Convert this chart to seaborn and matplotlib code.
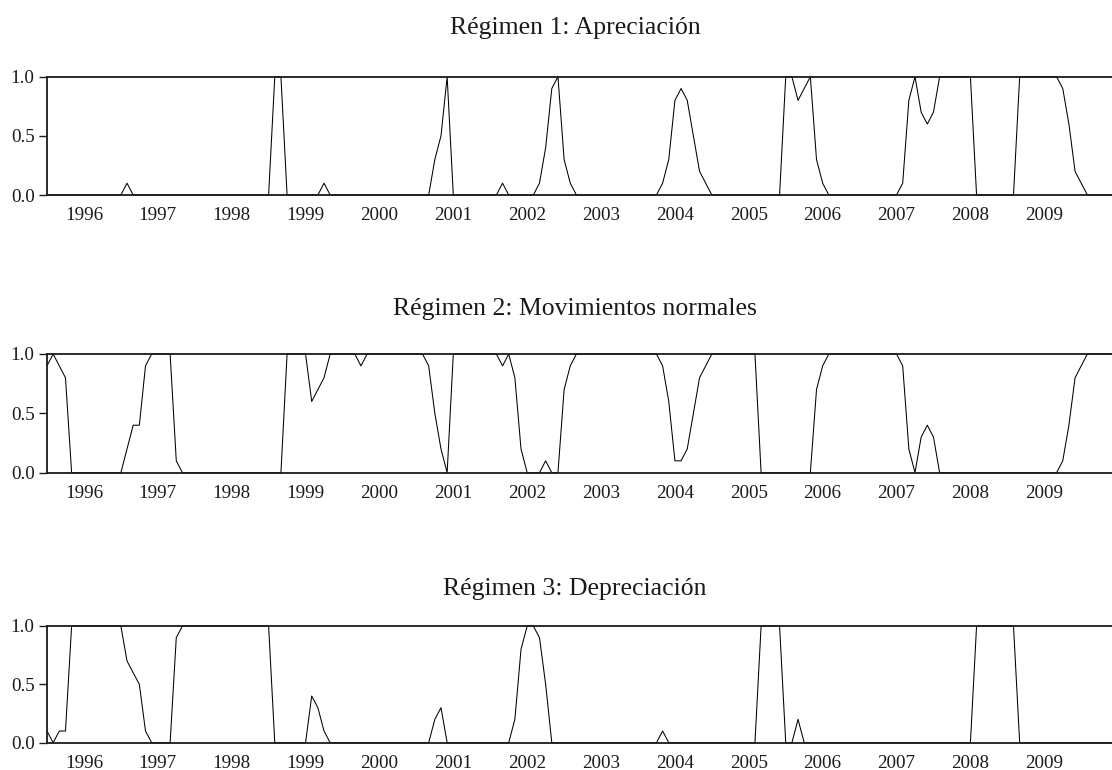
import numpy as np
import pandas as pd
import matplotlib
matplotlib.use("Agg")
import matplotlib.pyplot as plt
import seaborn as sns

# ---- data: monthly smoothed regime probabilities, 1995M7 .. 2009M12 ----
start_year = 1995
start_month = 7

reg1_1995 = [0, 0, 0, 0, 0, 0]
reg1_1996 = [0, 0, 0, 0, 0, 0, 0, 0.1, 0, 0, 0, 0]
reg1_1997 = [0, 0, 0, 0, 0, 0, 0, 0, 0, 0, 0, 0]
reg1_1998 = [0, 0, 0, 0, 0, 0, 0, 1, 1, 0, 0, 0]
reg1_1999 = [0, 0, 0, 0.1, 0, 0, 0, 0, 0, 0, 0, 0]
reg1_2000 = [0, 0, 0, 0, 0, 0, 0, 0, 0, 0.3, 0.5, 1.0]
reg1_2001 = [0, 0, 0, 0, 0, 0, 0, 0, 0.1, 0, 0, 0]
reg1_2002 = [0, 0, 0.1, 0.4, 0.9, 1.0, 0.3, 0.1, 0, 0, 0, 0]
reg1_2003 = [0, 0, 0, 0, 0, 0, 0, 0, 0, 0, 0.1, 0.3]
reg1_2004 = [0.8, 0.9, 0.8, 0.5, 0.2, 0.1, 0, 0, 0, 0, 0, 0]
reg1_2005 = [0, 0, 0, 0, 0, 0, 1, 1, 0.8, 0.9, 1.0, 0.3]
reg1_2006 = [0.1, 0, 0, 0, 0, 0, 0, 0, 0, 0, 0, 0]
reg1_2007 = [0, 0.1, 0.8, 1.0, 0.7, 0.6, 0.7, 1, 1, 1, 1, 1]
reg1_2008 = [1, 0, 0, 0, 0, 0, 0, 0, 1, 1, 1, 1]
reg1_2009 = [1, 1, 1, 0.9, 0.6, 0.2, 0.1, 0, 0, 0, 0, 0]

reg2_1995 = [0.9, 1, 0.9, 0.8, 0, 0]
reg2_1996 = [0, 0, 0, 0, 0, 0, 0, 0.2, 0.4, 0.4, 0.9, 1.0]
reg2_1997 = [1, 1, 1, 0.1, 0, 0, 0, 0, 0, 0, 0, 0]
reg2_1998 = [0, 0, 0, 0, 0, 0, 0, 0, 0, 1, 1, 1]
reg2_1999 = [1, 0.6, 0.7, 0.8, 1, 1, 1, 1, 1, 0.9, 1, 1]
reg2_2000 = [1, 1, 1, 1, 1, 1, 1, 1, 0.9, 0.5, 0.2, 0]
reg2_2001 = [1, 1, 1, 1, 1, 1, 1, 1, 0.9, 1, 0.8, 0.2]
reg2_2002 = [0, 0, 0, 0.1, 0, 0, 0.7, 0.9, 1, 1, 1, 1]
reg2_2003 = [1, 1, 1, 1, 1, 1, 1, 1, 1, 1, 0.9, 0.6]
reg2_2004 = [0.1, 0.1, 0.2, 0.5, 0.8, 0.9, 1, 1, 1, 1, 1, 1]
reg2_2005 = [1, 1, 0, 0, 0, 0, 0, 0, 0, 0, 0, 0.7]
reg2_2006 = [0.9, 1, 1, 1, 1, 1, 1, 1, 1, 1, 1, 1]
reg2_2007 = [1, 0.9, 0.2, 0, 0.3, 0.4, 0.3, 0, 0, 0, 0, 0]
reg2_2008 = [0, 0, 0, 0, 0, 0, 0, 0, 0, 0, 0, 0]
reg2_2009 = [0, 0, 0, 0.1, 0.4, 0.8, 0.9, 1, 1, 1, 1, 1]

reg3_1995 = [0.1, 0, 0.1, 0.1, 1, 1]
reg3_1996 = [1, 1, 1, 1, 1, 1, 1, 0.7, 0.6, 0.5, 0.1, 0]
reg3_1997 = [0, 0, 0, 0.9, 1, 1, 1, 1, 1, 1, 1, 1]
reg3_1998 = [1, 1, 1, 1, 1, 1, 1, 0, 0, 0, 0, 0]
reg3_1999 = [0, 0.4, 0.3, 0.1, 0, 0, 0, 0, 0, 0, 0, 0]
reg3_2000 = [0, 0, 0, 0, 0, 0, 0, 0, 0, 0.2, 0.3, 0]
reg3_2001 = [0, 0, 0, 0, 0, 0, 0, 0, 0, 0, 0.2, 0.8]
reg3_2002 = [1, 1, 0.9, 0.5, 0, 0, 0, 0, 0, 0, 0, 0]
reg3_2003 = [0, 0, 0, 0, 0, 0, 0, 0, 0, 0, 0.1, 0]
reg3_2004 = [0, 0, 0, 0, 0, 0, 0, 0, 0, 0, 0, 0]
reg3_2005 = [0, 0, 1, 1, 1, 1, 0, 0, 0.2, 0, 0, 0]
reg3_2006 = [0, 0, 0, 0, 0, 0, 0, 0, 0, 0, 0, 0]
reg3_2007 = [0, 0, 0, 0, 0, 0, 0, 0, 0, 0, 0, 0]
reg3_2008 = [0, 1, 1, 1, 1, 1, 1, 1, 0, 0, 0, 0]
reg3_2009 = [0, 0, 0, 0, 0, 0, 0, 0, 0, 0, 0, 0]

titles = ["Régimen 1: Apreciación",
          "Régimen 2: Movimientos normales",
          "Régimen 3: Depreciación"]
year_ticks = list(range(1996, 2010))
y_ticks = [0.0, 0.5, 1.0]

def join(*parts):
    out = []
    for p in parts:
        out.extend(p)
    return out

reg1 = join(reg1_1995, reg1_1996, reg1_1997, reg1_1998, reg1_1999, reg1_2000, reg1_2001,
            reg1_2002, reg1_2003, reg1_2004, reg1_2005, reg1_2006, reg1_2007, reg1_2008, reg1_2009)
reg2 = join(reg2_1995, reg2_1996, reg2_1997, reg2_1998, reg2_1999, reg2_2000, reg2_2001,
            reg2_2002, reg2_2003, reg2_2004, reg2_2005, reg2_2006, reg2_2007, reg2_2008, reg2_2009)
reg3 = join(reg3_1995, reg3_1996, reg3_1997, reg3_1998, reg3_1999, reg3_2000, reg3_2001,
            reg3_2002, reg3_2003, reg3_2004, reg3_2005, reg3_2006, reg3_2007, reg3_2008, reg3_2009)

n = len(reg1)
t = start_year + (start_month - 1) / 12 + np.arange(n) / 12.0
df = pd.DataFrame({"t": t, "r1": reg1, "r2": reg2, "r3": reg3})

# ---- style ----
sns.set_theme(style="white")
plt.rcParams["font.family"] = ["Liberation Serif", "DejaVu Serif"]
plt.rcParams["axes.unicode_minus"] = False

fig = plt.figure(figsize=(11.12, 7.70), dpi=100)
W, H = 1112.0, 770.0
left_px = 47.0
right_px = 1112.0
# (top of axis y=1.0, bottom of axis y=0.0) in pixels
panels_px = [(76.7, 195.0), (354.0, 472.7), (626.0, 742.7)]
title_pads = [31, 28, 22]
title_center_px = 575.0

for k, (col, title) in enumerate(zip(["r1", "r2", "r3"], titles)):
    top, bot = panels_px[k]
    ax = fig.add_axes([left_px / W, 1 - bot / H, (right_px - left_px) / W, (bot - top) / H])
    sns.lineplot(data=df, x="t", y=col, ax=ax, color="black", linewidth=0.75,
                 estimator=None, clip_on=False)
    ax.set_xlim(t[0], t[-1])
    ax.set_ylim(0, 1)
    ax.set_xlabel("")
    ax.set_ylabel("")
    ax.set_xticks(year_ticks)
    ax.set_xticklabels([str(y) for y in year_ticks])
    ax.set_yticks(y_ticks)
    ax.set_yticklabels([f"{v:.1f}" for v in y_ticks])
    ax.tick_params(axis="x", length=0, pad=9, labelsize=13.7, colors="#1a1a1a")
    ax.tick_params(axis="y", length=6, width=1.0, pad=3, left=True, labelsize=13.7,
                   colors="#1a1a1a", direction="out")
    for side in ["left", "top", "bottom"]:
        ax.spines[side].set_visible(True)
        ax.spines[side].set_color("#1a1a1a")
        ax.spines[side].set_linewidth(1.3)
        ax.spines[side].set_zorder(5)
    ax.spines["right"].set_visible(False)
    ax.grid(False)
    tx = (title_center_px - left_px) / (right_px - left_px)
    ax.set_title(title, fontsize=18.5, pad=title_pads[k], color="#1a1a1a", x=tx)

fig.savefig("out.png", dpi=100)
